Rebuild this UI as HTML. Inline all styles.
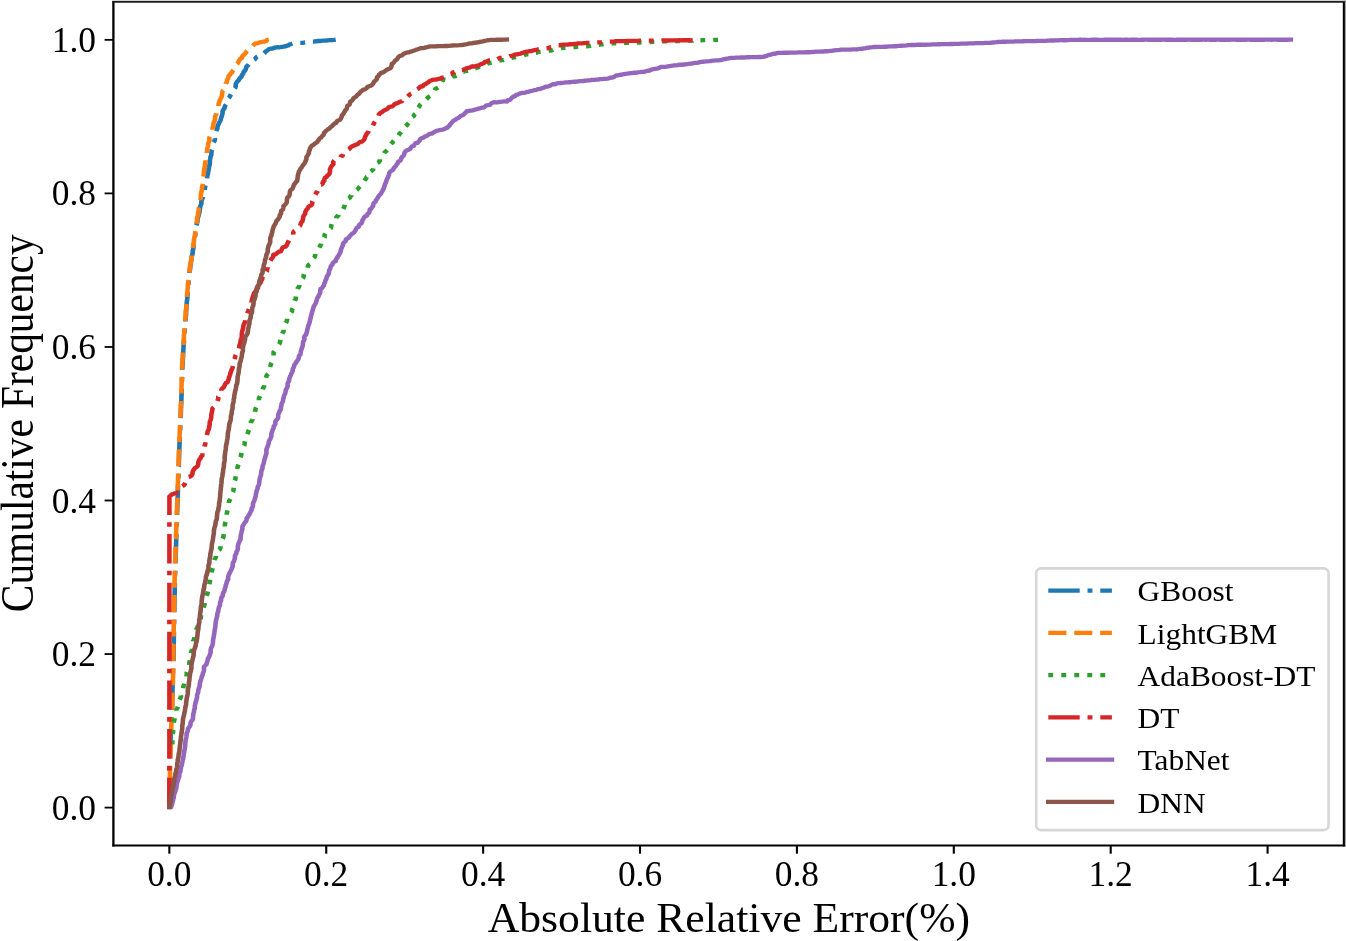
<!DOCTYPE html>
<html><head><meta charset="utf-8"><title>Cumulative Frequency of Absolute Relative Error</title>
<style>
html,body{margin:0;padding:0;background:#fff;}
body{width:1346px;height:941px;overflow:hidden;}
svg{display:block;}
text{font-family:"Liberation Serif","Times New Roman",serif;fill:#000;}
.tick{font-size:35.4px;}
.lab{font-size:44px;}
.leg{font-size:31.4px;}
</style></head><body>
<svg width="1346" height="941" viewBox="0 0 1346 941">
<rect x="0" y="0" width="1346" height="941" fill="#fff"/>
<defs><clipPath id="ax"><rect x="113.4" y="2.0" width="1230.4499999999998" height="843.5"/></clipPath></defs>

<g clip-path="url(#ax)"><g transform="scale(1,0.94)" fill="none" stroke-linejoin="round">
<path d="M169.4,858.7 L169.4,857.0 L169.4,855.3 L169.4,853.6 L169.4,851.9 L169.4,850.2 L169.4,848.5 L169.4,846.8 L169.4,845.1 L169.4,843.4 L169.4,841.7 L169.4,840.0 L169.5,838.3 L169.5,836.6 L169.5,834.9 L169.5,833.2 L169.5,831.5 L169.5,829.8 L169.5,828.1 L169.5,827.5 M169.5,819.7 L169.5,819.6 L169.6,817.8 L169.6,816.1 L169.7,814.8 M169.9,806.9 L169.9,805.9 L170.0,804.2 L170.0,802.5 L170.1,800.8 L170.1,799.1 L170.2,797.4 L170.3,795.7 L170.3,794.0 L170.4,792.3 L170.4,790.6 L170.5,788.9 L170.5,787.2 L170.6,785.5 L170.6,783.8 L170.7,782.1 L170.7,780.4 L170.8,778.7 L170.9,777.0 L171.0,775.5 M171.3,767.7 L171.3,766.8 L171.3,765.1 L171.4,763.4 L171.4,762.8 M171.9,755.1 L171.9,754.9 L172.0,753.2 L172.0,751.5 L172.1,749.8 L172.1,748.1 L172.2,746.4 L172.2,744.7 L172.3,743.0 L172.3,741.3 L172.4,739.6 L172.4,737.9 L172.5,736.2 L172.5,734.5 L172.5,732.8 L172.6,731.1 L172.6,729.4 L172.7,727.6 L172.7,725.9 L172.8,724.2 L172.8,724.0 M173.0,716.2 L173.0,715.7 L173.0,714.0 L173.1,712.3 L173.1,711.4 M173.5,703.5 L173.5,702.1 L173.5,700.4 L173.6,698.7 L173.6,697.0 L173.6,695.3 L173.6,693.6 L173.7,691.9 L173.7,690.2 L173.7,688.5 L173.7,686.8 L173.7,685.1 L173.8,683.4 L173.8,681.7 L173.8,680.0 L173.8,678.3 L173.9,676.6 L173.9,674.9 L173.9,673.2 L173.9,672.0 M174.1,664.1 L174.1,663.0 L174.1,661.2 L174.2,659.5 L174.2,659.2 M174.3,651.4 L174.3,651.0 L174.3,649.3 L174.4,647.6 L174.4,645.9 L174.4,644.2 L174.5,642.5 L174.5,640.8 L174.5,639.1 L174.5,637.4 L174.6,635.7 L174.6,634.0 L174.6,632.3 L174.7,630.6 L174.7,628.9 L174.7,627.2 L174.8,625.5 L174.8,623.8 L174.8,622.1 L174.8,620.4 L174.9,619.9 M175.1,612.0 L175.1,611.9 L175.1,610.2 L175.2,608.5 L175.2,607.1 M175.5,599.3 L175.5,598.3 L175.6,596.6 L175.6,594.8 L175.7,593.1 L175.7,591.4 L175.8,589.7 L175.8,588.0 L175.9,586.3 L175.9,584.6 L176.0,582.9 L176.0,581.2 L176.1,579.5 L176.1,577.8 L176.2,576.1 L176.2,574.4 L176.3,572.7 L176.3,571.0 L176.4,569.3 L176.4,568.2 M176.6,560.4 L176.6,559.1 L176.7,557.4 L176.8,555.7 L176.8,555.5 M177.1,547.8 L177.1,547.2 L177.1,545.5 L177.2,543.8 L177.3,542.1 L177.3,540.4 L177.4,538.7 L177.4,537.0 L177.5,535.3 L177.6,533.6 L177.6,531.9 L177.7,530.2 L177.7,528.5 L177.8,526.8 L177.8,525.1 L177.9,523.4 L177.9,521.7 L178.0,520.0 L178.0,518.3 L178.1,516.6 M178.3,508.9 L178.4,508.0 L178.4,506.3 L178.5,504.6 L178.5,504.0 M178.7,496.3 L178.8,496.1 L178.8,494.4 L178.9,492.7 L178.9,491.0 L179.0,489.3 L179.0,487.6 L179.1,485.9 L179.1,484.2 L179.2,482.5 L179.2,480.8 L179.3,479.1 L179.3,477.4 L179.4,475.7 L179.5,474.0 L179.5,472.3 L179.6,470.6 L179.7,468.9 L179.7,467.2 L179.8,465.5 L179.8,465.1 M180.1,457.4 L180.2,457.0 L180.2,455.3 L180.3,453.6 L180.3,452.5 M180.6,444.8 L180.7,443.4 L180.8,441.7 L180.8,440.0 L180.9,438.3 L180.9,436.6 L181.0,434.9 L181.1,433.2 L181.1,431.5 L181.2,429.8 L181.3,428.1 L181.3,426.4 L181.4,424.6 L181.4,422.9 L181.5,421.2 L181.6,419.5 L181.6,417.8 L181.7,416.1 L181.7,414.4 L181.7,413.6 M182.0,405.9 L182.0,404.2 L182.1,402.5 L182.1,401.0 M182.3,393.3 L182.3,392.3 L182.4,390.6 L182.5,388.9 L182.6,387.2 L182.6,385.5 L182.6,383.8 L182.8,382.1 L183.0,380.4 L183.1,378.7 L183.1,377.0 L183.2,375.3 L183.3,373.6 L183.4,371.9 L183.5,370.2 L183.5,368.5 L183.6,366.8 L183.8,365.1 L184.0,363.4 L184.0,362.2 M184.5,354.4 L184.6,353.2 L184.7,351.5 L184.8,349.8 L184.8,349.6 M185.4,341.9 L185.4,341.3 L185.6,339.6 L185.7,337.9 L185.9,336.2 L186.1,334.5 L186.1,332.8 L186.1,331.1 L186.3,329.4 L186.4,327.7 L186.5,326.0 L186.6,324.3 L186.8,322.6 L186.8,320.9 L187.1,319.3 L187.3,317.6 L187.4,315.9 L187.5,314.2 L187.6,312.5 L187.7,310.8 M188.4,303.1 L188.4,302.3 L188.5,300.6 L188.8,298.9 L188.9,298.3 M189.5,290.5 L189.5,290.4 L189.6,288.7 L189.9,287.0 L190.2,285.4 L190.3,283.7 L190.5,282.0 L190.8,280.3 L191.0,278.6 L191.4,276.9 L191.6,275.3 L191.7,273.5 L192.1,271.9 L192.5,270.2 L192.7,268.5 L192.7,266.8 L193.2,265.2 L193.5,263.5 L193.6,261.8 L193.6,260.1 L193.7,259.8 M194.8,252.1 L194.9,251.7 L195.3,250.0 L195.4,248.3 L195.6,247.4 M196.5,239.7 L196.9,238.2 L197.2,236.5 L197.5,234.9 L197.5,233.1 L197.9,231.5 L198.5,229.9 L198.6,228.2 L199.3,226.6 L199.6,224.9 L199.7,223.2 L200.1,221.5 L200.2,219.8 L200.8,218.2 L201.4,216.6 L201.3,214.8 L201.6,213.2 L202.2,211.6 L203.0,210.0 L203.1,209.5 M204.9,202.0 L204.9,201.8 L204.8,200.0 L205.2,198.4 L205.5,197.2 M207.1,189.7 L207.2,188.4 L207.3,186.6 L207.9,185.0 L208.1,183.3 L208.4,181.7 L208.7,180.0 L209.0,178.3 L209.2,176.6 L209.7,175.0 L209.9,173.3 L209.8,171.5 L210.1,169.9 L210.3,168.2 L210.6,166.5 L211.3,164.9 L211.4,163.2 L211.5,161.5 L211.7,159.8 L212.0,159.1 M213.6,151.5 L213.6,151.5 L214.5,150.0 L214.9,148.3 L214.7,147.0 M216.3,139.5 L216.6,138.3 L217.4,136.7 L217.4,135.0 L218.0,133.4 L218.7,131.8 L219.3,130.2 L220.2,128.8 L220.8,127.2 L221.0,125.4 L221.8,123.9 L222.1,122.2 L222.6,120.6 L222.5,118.8 L223.0,117.2 L224.2,115.8 L224.6,114.2 L225.1,112.5 L226.1,111.2 M228.6,104.3 L229.4,103.4 L230.2,102.0 L230.8,100.4 L230.9,100.2 M234.7,94.0 L235.3,93.3 L235.8,91.7 L235.7,89.6 L236.4,88.1 L237.3,86.7 L238.6,85.6 L239.3,84.0 L240.4,82.7 L241.5,81.4 L242.0,79.8 L243.2,78.5 L243.5,76.7 L244.6,75.5 L245.6,74.1 L246.1,72.5 L246.5,70.7 L247.9,69.6 L248.7,68.5 M254.1,63.4 L255.0,62.9 L255.9,61.3 L257.2,60.2 L257.4,60.1 M264.3,56.9 L264.5,56.7 L265.4,54.9 L266.8,54.1 L268.1,53.0 L269.4,52.0 L271.1,51.8 L272.8,51.6 L274.1,50.8 L275.7,50.5 L277.3,50.3 L278.9,50.3 L280.5,50.1 L282.1,49.8 L283.7,49.5 L285.2,49.4 L286.7,48.7 L288.3,48.4 L289.5,47.1 L291.2,46.9 L292.4,46.4 M300.3,45.7 L300.6,45.7 L302.2,45.6 L303.8,45.4 L305.1,45.2 M312.9,44.2 L313.4,44.2 L315.0,44.0 L316.6,43.9 L318.1,43.6 L319.7,43.6 L321.3,43.4 L322.9,43.2 L324.5,43.2 L326.1,43.1 L327.7,42.9 L329.3,42.7 L330.9,42.7 L332.5,42.7 L334.1,42.5 L335.7,42.2" stroke="#1f77b4" stroke-width="4.6" stroke-linecap="butt"/>
<path d="M169.4,858.7 L169.4,857.0 L169.5,855.3 L169.5,853.6 L169.5,851.9 L169.5,850.2 L169.6,848.5 L169.6,846.8 L169.6,845.1 L169.6,843.4 L169.7,841.7 L169.7,840.6 M169.8,832.8 L169.8,831.5 L169.8,829.8 L169.9,828.1 L169.9,826.4 L169.9,824.7 L170.0,823.0 L170.0,821.3 L170.0,819.6 L170.1,817.9 L170.1,816.2 L170.1,814.7 M170.3,806.9 L170.4,806.0 L170.4,804.3 L170.5,802.6 L170.5,800.9 L170.5,799.1 L170.6,797.4 L170.6,795.7 L170.7,794.0 L170.7,792.3 L170.8,790.6 L170.8,788.9 L170.8,788.8 M171.0,781.0 L171.0,780.4 L171.1,778.7 L171.1,777.0 L171.2,775.3 L171.3,773.6 L171.3,771.9 L171.4,770.2 L171.5,768.5 L171.6,766.8 L171.7,765.1 L171.7,763.4 L171.7,762.9 M172.0,755.1 L172.0,754.9 L172.1,753.2 L172.2,751.5 L172.3,749.8 L172.3,748.1 L172.4,746.4 L172.4,744.7 L172.5,743.0 L172.5,741.3 L172.5,739.6 L172.6,737.9 L172.6,736.9 M172.8,729.0 L172.8,727.7 L172.9,726.0 L172.9,724.3 L172.9,722.6 L173.0,720.9 L173.0,719.2 L173.1,717.5 L173.1,715.8 L173.1,714.1 L173.2,712.4 L173.2,710.9 M173.2,703.1 L173.2,702.2 L173.2,700.5 L173.3,698.8 L173.3,697.0 L173.3,695.3 L173.3,693.6 L173.4,691.9 L173.4,690.2 L173.4,688.5 L173.4,686.8 L173.4,685.1 L173.5,685.0 M173.6,677.2 L173.6,676.6 L173.6,674.9 L173.6,673.2 L173.6,671.5 L173.7,669.8 L173.7,668.1 L173.7,666.4 L173.8,664.7 L173.8,663.0 L173.8,661.3 L173.9,659.6 L173.9,659.1 M174.0,651.2 L174.0,651.1 L174.0,649.4 L174.1,647.7 L174.1,646.0 L174.1,644.3 L174.2,642.6 L174.2,640.9 L174.2,639.2 L174.2,637.5 L174.3,635.8 L174.3,634.1 L174.3,633.1 M174.5,625.3 L174.5,623.9 L174.5,622.1 L174.5,620.4 L174.6,618.7 L174.6,617.0 L174.7,615.3 L174.7,613.6 L174.8,611.9 L174.8,610.2 L174.9,608.5 L174.9,607.2 M175.2,599.4 L175.2,598.3 L175.3,596.6 L175.3,594.9 L175.4,593.2 L175.4,591.5 L175.5,589.8 L175.5,588.1 L175.6,586.4 L175.6,584.7 L175.7,583.0 L175.7,581.3 M175.9,573.5 L176.0,572.8 L176.0,571.1 L176.0,569.4 L176.1,567.7 L176.1,566.0 L176.2,564.3 L176.2,562.6 L176.3,560.9 L176.3,559.2 L176.4,557.5 L176.5,555.8 L176.5,555.4 M176.8,547.6 L176.8,547.3 L176.8,545.6 L176.9,543.9 L177.0,542.2 L177.0,540.5 L177.1,538.8 L177.1,537.1 L177.2,535.4 L177.3,533.7 L177.3,532.0 L177.4,530.3 L177.4,529.6 M177.6,521.8 L177.6,521.8 L177.7,520.1 L177.7,518.4 L177.8,516.7 L177.9,515.0 L177.9,513.2 L178.0,511.5 L178.0,509.8 L178.1,508.1 L178.1,506.4 L178.2,504.7 L178.2,503.8 M178.5,496.0 L178.5,494.5 L178.6,492.8 L178.6,491.1 L178.7,489.4 L178.7,487.7 L178.8,486.0 L178.8,484.3 L178.9,482.6 L178.9,480.9 L179.0,479.2 L179.0,478.0 M179.3,470.3 L179.4,469.0 L179.4,467.3 L179.5,465.6 L179.6,463.9 L179.6,462.2 L179.7,460.5 L179.8,458.8 L179.8,457.1 L179.9,455.4 L180.0,453.7 L180.0,452.3 M180.4,444.5 L180.4,443.5 L180.5,441.8 L180.5,440.1 L180.6,438.4 L180.6,436.7 L180.7,435.0 L180.8,433.3 L180.8,431.6 L180.9,429.9 L181.0,428.2 L181.0,426.5 L181.0,426.5 M181.3,418.7 L181.3,418.0 L181.4,416.3 L181.4,414.6 L181.5,412.9 L181.5,411.2 L181.6,409.5 L181.6,407.8 L181.7,406.1 L181.7,404.4 L181.8,402.7 L181.8,401.0 L181.8,400.7 M182.0,392.9 L182.0,392.5 L182.1,390.8 L182.2,389.1 L182.2,387.3 L182.2,385.6 L182.4,383.9 L182.5,382.3 L182.7,380.6 L182.8,378.9 L182.8,377.2 L182.9,375.5 L182.9,374.9 M183.4,367.1 L183.4,367.0 L183.5,365.3 L183.6,363.6 L183.6,361.9 L183.9,360.2 L183.9,358.5 L183.9,356.8 L184.2,355.1 L184.4,353.4 L184.5,351.7 L184.5,350.0 L184.5,349.2 M185.2,341.4 L185.3,339.8 L185.5,338.1 L185.5,336.4 L185.7,334.7 L185.7,333.0 L185.8,331.3 L186.0,329.6 L186.2,327.9 L186.3,326.2 L186.4,324.5 L186.5,323.5 M186.9,315.8 L187.0,314.3 L187.2,312.6 L187.4,310.9 L187.4,309.2 L187.6,307.5 L187.8,305.8 L187.8,304.1 L187.9,302.4 L188.2,300.8 L188.5,299.1 L188.6,297.9 M189.3,290.1 L189.5,288.9 L189.6,287.2 L189.8,285.5 L190.0,283.9 L190.2,282.2 L190.7,280.5 L190.8,278.8 L191.0,277.1 L191.4,275.5 L191.7,273.8 L191.7,272.1 L191.7,271.8 M192.8,263.9 L192.8,263.6 L193.4,262.0 L193.6,260.3 L193.6,258.6 L193.8,256.9 L193.9,255.2 L194.2,253.5 L194.6,251.9 L195.0,250.2 L195.1,248.5 L195.3,246.8 L195.5,245.8 M196.5,238.0 L196.6,236.7 L197.0,235.0 L196.9,233.3 L197.1,231.6 L197.7,230.0 L198.0,228.3 L198.2,226.6 L198.5,224.9 L198.7,223.3 L198.8,221.6 L199.1,220.6 M200.4,213.1 L200.6,211.5 L200.7,209.8 L200.9,208.1 L201.0,206.4 L201.2,204.7 L201.7,203.1 L202.0,201.4 L202.0,199.7 L202.3,198.0 L202.6,196.3 L202.7,195.5 M203.4,187.9 L203.4,187.9 L203.6,186.2 L203.9,184.5 L203.9,182.8 L204.2,181.1 L204.5,179.4 L204.7,177.7 L205.0,176.1 L205.0,174.4 L205.4,172.7 L205.7,171.0 L205.7,170.4 M206.8,162.7 L206.8,162.6 L207.2,160.9 L207.2,159.2 L207.4,157.5 L207.9,155.9 L208.1,154.2 L208.3,152.5 L208.9,150.9 L209.5,149.3 L209.3,147.5 L209.6,145.8 L209.8,145.3 M212.4,138.0 L212.4,137.8 L212.5,136.1 L213.2,134.5 L213.4,132.8 L213.5,131.1 L214.3,129.5 L214.9,127.9 L215.1,126.2 L215.1,124.5 L215.6,122.8 L216.3,121.3 L216.4,120.4 M218.4,113.0 L218.5,111.3 L218.9,109.7 L219.4,108.1 L219.9,106.5 L220.7,104.9 L221.4,103.4 L222.0,101.8 L222.1,100.0 L222.3,98.3 L222.8,96.7 L223.4,96.1 M225.8,89.1 L225.8,88.8 L226.9,87.4 L227.0,85.6 L227.8,84.1 L228.3,82.5 L228.7,80.7 L230.0,79.6 L230.7,78.1 L232.0,77.0 L232.7,75.4 L233.4,74.5 M236.9,67.9 L238.0,66.9 L238.7,65.3 L239.6,63.8 L240.5,62.4 L242.0,61.5 L242.4,59.7 L243.6,58.5 L244.8,57.4 L245.9,56.2 L246.6,54.5 L247.1,54.0 M252.8,48.9 L253.8,47.7 L255.0,46.4 L256.5,46.1 L258.1,45.8 L259.6,45.2 L261.2,44.9 L262.7,44.3 L264.4,44.2 L265.9,43.8 L267.2,42.5 L268.8,42.2" stroke="#ff7f0e" stroke-width="4.6" stroke-linecap="butt"/>
<path d="M172.2,791.9 L172.3,790.2 L172.4,788.5 L172.4,787.5 M172.7,781.0 L172.8,780.0 L173.1,778.3 L173.1,776.7 M173.8,768.8 L173.9,768.2 L174.1,766.5 L174.6,764.9 L174.7,764.0 M176.4,756.2 L176.4,754.8 L177.3,753.3 L177.9,751.8 M179.7,744.4 L180.0,743.5 L180.7,742.0 L181.0,740.3 L180.9,739.8 M183.2,732.1 L183.4,730.4 L184.0,728.8 L184.3,727.3 M186.4,719.7 L186.5,718.9 L186.8,717.3 L186.7,715.5 L186.9,715.0 M189.4,707.4 L189.3,705.6 L189.6,704.0 L190.0,702.6 M191.1,694.8 L191.1,693.9 L191.7,692.3 L192.1,690.6 L192.1,690.2 M193.1,682.3 L193.1,682.2 L193.9,680.6 L194.3,679.0 L194.4,677.8 M196.3,670.2 L196.6,669.0 L197.4,667.6 L197.9,666.0 L198.0,665.8 M200.4,658.6 L200.6,658.0 L200.9,656.2 L201.1,654.5 L201.4,654.0 M203.4,646.3 L204.0,644.8 L204.5,643.2 L204.6,641.6 M206.4,633.8 L206.6,633.2 L207.4,631.7 L207.7,630.0 L207.9,629.2 M209.4,621.5 L209.6,620.0 L209.9,618.3 L210.1,616.8 M211.7,609.1 L211.8,608.3 L212.1,606.6 L212.6,605.0 L212.8,604.3 M214.3,596.0 L214.6,595.0 L215.4,593.7 L216.0,592.1 L216.0,591.6 M218.9,585.2 L219.7,584.6 L220.4,582.9 L220.7,581.2 L220.7,581.0 M222.8,573.2 L222.9,573.0 L223.3,571.4 L223.6,569.8 L223.7,568.3 M224.8,560.1 L224.8,559.6 L225.0,557.9 L225.2,556.2 L225.5,555.2 M226.8,547.5 L226.8,546.2 L227.2,544.5 L227.5,542.9 M228.9,535.2 L228.9,534.5 L229.3,532.8 L230.1,531.3 L230.4,530.7 M232.9,523.5 L233.0,523.3 L233.5,521.7 L233.6,519.9 L233.7,518.9 M234.9,511.2 L235.4,509.9 L235.5,508.2 L235.7,506.6 M237.2,498.9 L237.3,498.1 L237.7,496.5 L238.3,494.9 L238.6,494.3 M240.3,486.5 L241.0,485.1 L241.2,483.4 L241.5,481.8 M244.1,474.3 L244.4,473.7 L244.6,472.0 L244.7,470.3 L244.9,469.5 M247.4,461.9 L247.9,460.6 L248.3,459.0 L249.0,457.4 M250.7,450.1 L250.9,449.1 L251.8,447.6 L252.7,446.2 L252.7,445.9 M254.9,438.1 L254.9,438.0 L255.4,436.4 L255.6,434.7 L256.2,433.4 M258.9,425.9 L258.9,425.1 L259.0,423.3 L260.0,421.8 L260.2,421.4 M262.8,414.3 L262.9,413.9 L263.3,412.3 L264.2,410.8 L264.3,409.8 M265.9,401.9 L266.2,400.7 L266.9,399.2 L268.0,397.8 L268.1,397.7 M270.0,390.4 L270.2,389.6 L270.8,388.0 L271.3,386.4 L271.6,385.9 M273.6,378.3 L273.6,378.3 L273.6,376.5 L273.6,374.6 L274.3,373.5 M279.1,366.2 L279.2,366.1 L279.9,364.5 L280.2,362.8 L280.4,361.6 M282.3,354.9 L282.4,354.6 L283.4,353.1 L283.6,351.4 L283.6,350.7 M285.8,343.7 L286.0,343.3 L286.8,341.8 L287.1,340.1 L287.1,339.2 M291.2,332.4 L292.0,331.3 L292.0,329.4 L292.8,327.9 M294.5,319.9 L294.6,319.6 L295.7,318.2 L295.8,316.4 L295.9,315.4 M297.6,307.6 L297.9,306.5 L299.0,305.1 L299.4,303.3 L299.4,303.2 M302.8,296.2 L303.1,295.8 L303.7,294.2 L303.8,292.4 L304.0,291.7 M307.7,284.9 L307.9,283.1 L308.7,281.6 L309.8,280.9 M313.6,274.3 L314.5,273.5 L315.2,271.8 L315.2,270.1 M319.3,263.4 L319.6,262.8 L320.3,261.3 L321.1,259.8 L321.2,259.2 M324.4,252.7 L324.7,252.2 L324.5,250.1 L325.3,248.6 L325.4,248.4 M330.4,242.8 L331.0,242.4 L331.2,240.5 L331.6,238.8 L331.7,238.5 M336.2,232.2 L336.2,231.8 L337.0,230.3 L338.4,229.3 L338.6,228.4 M343.2,222.3 L343.9,220.9 L344.5,219.2 L344.7,217.8 M348.5,211.3 L349.6,210.6 L350.4,209.1 L351.4,207.8 L351.4,207.7 M356.8,202.1 L357.1,201.9 L358.2,200.5 L359.2,199.2 L359.9,198.4 M364.5,192.2 L365.1,191.1 L366.1,189.9 L366.7,188.3 L366.9,188.2 M370.7,182.4 L371.8,181.6 L373.1,180.5 L373.4,179.1 M377.4,173.1 L378.9,172.4 L379.8,171.0 L379.8,169.5 M384.1,163.1 L384.6,162.1 L385.9,161.0 L387.0,159.8 L387.2,159.6 M391.0,153.1 L391.4,152.6 L392.6,151.4 L393.4,150.0 L393.8,149.5 M398.8,144.1 L399.0,143.8 L399.5,142.1 L400.8,141.0 L401.3,140.3 M405.6,134.4 L405.7,134.3 L406.9,133.1 L407.9,131.8 L408.7,130.9 M412.4,124.4 L413.7,123.6 L414.3,122.0 L415.4,121.1 M418.3,114.5 L419.3,113.3 L419.9,111.7 L421.0,110.7 M426.4,105.6 L427.1,104.9 L428.0,103.5 L429.5,102.6 L430.0,102.3 M434.9,96.2 L435.4,94.6 L437.0,93.8 L438.1,93.1 M441.9,86.9 L442.6,85.4 L444.4,84.7 L445.4,84.9 M452.0,81.9 L453.4,81.1 L455.2,81.2 L456.6,80.7 M463.4,76.2 L463.6,76.2 L465.0,75.4 L466.8,75.5 L468.1,75.3 M475.4,72.4 L475.9,72.4 L477.5,72.0 L478.9,71.1 L479.9,70.8 M487.0,67.9 L487.9,67.4 L489.5,67.2 L491.0,66.8 L491.6,66.7 M499.2,64.4 L500.3,64.2 L501.9,63.9 L503.6,64.0 L503.9,63.9 M511.4,61.5 L512.8,61.2 L514.4,61.0 L516.0,60.7 L516.1,60.7 M523.8,58.9 L525.3,58.2 L526.8,57.7 L528.4,57.7 M536.0,56.1 L536.3,56.1 L537.8,55.4 L539.4,55.2 L540.6,55.1 M548.5,54.0 L548.9,53.9 L550.6,53.9 L552.1,53.4 L553.1,52.9 M560.8,51.4 L561.5,51.2 L563.1,51.0 L564.6,50.8 L565.5,50.8 M573.4,50.1 L574.2,50.0 L575.8,50.0 L577.4,49.8 L578.2,49.8 M586.1,49.2 L587.0,49.2 L588.6,49.0 L590.2,48.8 L590.9,48.6 M598.8,47.7 L599.7,47.6 L601.3,47.3 L602.9,47.1 L603.5,47.0 M611.4,46.4 L612.5,46.2 L614.0,46.1 L615.7,46.1 L616.2,46.1 M624.1,45.7 L625.2,45.7 L626.8,45.7 L628.4,45.6 L628.9,45.6 M636.8,45.4 L638.0,45.4 L639.6,45.2 L641.2,45.1 L641.6,45.1 M649.6,44.8 L650.8,44.7 L652.4,44.6 L654.0,44.5 L654.3,44.5 M662.3,44.2 L663.6,44.1 L665.2,44.1 L666.8,44.0 L667.1,44.0 M675.0,43.7 L676.4,43.6 L678.0,43.6 L679.6,43.6 L679.8,43.6 M687.7,43.3 L689.2,43.2 L690.8,43.2 L692.4,43.2 L692.5,43.1 M700.4,42.9 L702.0,42.8 L703.6,42.7 L705.2,42.7 L705.2,42.7 M713.2,42.5 L713.2,42.5 L714.8,42.4 L716.4,42.4 L718.0,42.3" stroke="#2ca02c" stroke-width="4.6" stroke-linecap="butt"/>
<path d="M169.4,858.7 L169.4,857.0 L169.4,855.3 L169.4,853.6 L169.4,851.9 L169.4,850.2 L169.4,848.5 L169.4,846.8 L169.4,845.1 L169.4,843.4 L169.4,841.7 L169.4,840.0 L169.4,838.3 L169.4,836.6 L169.4,834.9 L169.4,833.2 L169.4,831.5 L169.4,829.8 L169.4,828.1 L169.4,827.5 M169.4,819.7 L169.4,819.6 L169.4,817.8 L169.4,816.1 L169.4,814.8 M169.4,806.9 L169.4,805.9 L169.4,804.2 L169.4,802.5 L169.4,800.8 L169.4,799.1 L169.4,797.4 L169.4,795.7 L169.4,794.0 L169.4,792.3 L169.4,790.6 L169.4,788.9 L169.4,787.2 L169.4,785.5 L169.4,783.8 L169.4,782.1 L169.4,780.4 L169.4,778.7 L169.4,777.0 L169.4,775.5 M169.4,767.7 L169.4,766.8 L169.4,765.1 L169.4,763.4 L169.4,762.8 M169.4,755.0 L169.4,754.8 L169.4,753.1 L169.4,751.4 L169.4,749.7 L169.4,748.0 L169.4,746.3 L169.4,744.6 L169.4,742.9 L169.4,741.2 L169.4,739.5 L169.4,737.8 L169.4,736.1 L169.4,734.4 L169.4,732.7 L169.4,731.0 L169.4,729.3 L169.4,727.6 L169.4,725.9 L169.4,724.2 L169.4,724.0 M169.4,716.3 L169.4,715.7 L169.4,714.0 L169.4,712.3 L169.4,711.4 M169.4,703.5 L169.4,702.0 L169.4,700.3 L169.4,698.6 L169.4,696.9 L169.4,695.2 L169.4,693.5 L169.4,691.8 L169.4,690.1 L169.4,688.4 L169.4,686.7 L169.4,685.0 L169.4,683.3 L169.4,681.6 L169.4,679.9 L169.4,678.2 L169.4,676.5 L169.4,674.8 L169.4,673.1 L169.4,672.0 M169.4,664.2 L169.4,662.9 L169.4,661.2 L169.4,659.5 L169.4,659.2 M169.4,651.4 L169.4,650.9 L169.4,649.2 L169.4,647.5 L169.4,645.8 L169.4,644.1 L169.4,642.4 L169.4,640.7 L169.4,639.0 L169.4,637.3 L169.4,635.6 L169.4,633.9 L169.4,632.2 L169.4,630.5 L169.4,628.8 L169.4,627.1 L169.4,625.4 L169.4,623.7 L169.4,622.0 L169.4,620.3 L169.4,619.9 M169.4,612.0 L169.4,611.8 L169.4,610.1 L169.4,608.4 L169.4,607.1 M169.4,599.4 L169.4,598.2 L169.4,596.5 L169.4,594.7 L169.4,593.0 L169.4,591.3 L169.4,589.6 L169.4,587.9 L169.4,586.2 L169.4,584.5 L169.4,582.8 L169.4,581.1 L169.4,579.4 L169.4,577.7 L169.4,576.0 L169.4,574.3 L169.4,572.6 L169.4,570.9 L169.4,569.2 L169.4,568.2 M169.4,560.4 L169.4,559.0 L169.4,557.3 L169.4,555.6 M169.4,548.0 L169.4,547.1 L169.4,545.4 L169.4,543.7 L169.4,542.0 L169.4,540.2 L169.4,538.5 L169.4,536.8 L169.4,535.1 L169.4,533.4 L169.4,531.7 L169.4,530.0 L169.4,528.3 L170.6,527.2 L171.5,526.2 L173.0,525.6 L174.5,524.8 L176.1,524.5 L177.6,524.1 L178.5,523.5 M182.3,517.2 L183.6,516.4 L184.7,515.2 L185.4,513.7 M188.7,507.4 L190.3,506.9 L191.6,505.8 L192.4,504.2 L192.6,502.3 L193.1,500.7 L194.1,499.3 L194.9,497.9 L196.5,496.9 L197.7,495.7 L198.2,493.9 L198.3,492.1 L198.7,490.4 L199.4,488.9 L200.6,487.6 L201.0,485.9 L202.3,484.7 L202.4,482.8 L202.4,482.3 M204.4,475.1 L204.5,474.6 L205.1,473.0 L205.4,471.4 L205.5,470.5 M206.9,462.9 L207.2,461.3 L207.5,459.6 L208.1,458.1 L208.8,456.5 L209.2,454.8 L209.4,453.1 L209.7,451.5 L209.7,449.7 L210.0,448.0 L210.7,446.4 L211.1,444.8 L211.3,443.1 L211.3,441.4 L211.6,439.7 L212.0,438.1 L212.3,436.4 L212.5,434.5 L213.9,433.4 L213.9,433.4 M217.3,426.7 L217.6,425.9 L218.3,424.3 L218.2,422.4 L218.4,422.2 M221.3,415.7 L221.3,414.6 L222.4,413.2 L223.6,412.1 L224.4,410.6 L225.0,409.0 L225.9,407.5 L227.5,406.7 L228.1,405.0 L228.7,403.4 L228.9,401.7 L229.6,400.1 L230.2,398.5 L230.4,396.8 L231.0,395.2 L231.5,393.6 L232.2,392.1 L232.7,390.5 L233.0,389.3 M234.6,382.0 L235.0,380.5 L235.3,378.8 L235.8,377.5 M238.9,370.7 L239.2,369.5 L239.4,367.7 L240.0,366.1 L240.4,364.5 L240.6,362.8 L240.9,361.1 L241.5,359.5 L241.8,357.8 L241.8,356.1 L241.9,354.4 L242.1,352.7 L242.6,351.0 L243.1,349.4 L243.3,347.7 L243.5,346.0 L244.1,344.4 L244.9,342.9 L245.5,341.3 L245.6,340.7 M247.1,333.3 L247.2,333.0 L248.2,331.5 L248.6,329.9 L249.0,328.9 M251.3,321.9 L251.3,321.8 L251.7,320.2 L252.0,318.5 L252.5,316.9 L253.0,315.2 L253.6,313.6 L254.0,312.0 L255.0,310.6 L255.9,309.2 L256.8,307.7 L258.0,306.4 L258.0,304.6 L258.7,303.0 L259.8,301.7 L260.7,300.3 L261.2,298.6 L262.1,297.2 L262.4,295.5 L262.5,294.5 M266.6,288.8 L266.9,288.4 L266.8,286.4 L267.7,285.0 L267.7,284.3 M270.3,277.3 L270.5,277.0 L271.3,275.5 L272.5,274.3 L273.2,272.8 L273.4,270.9 L275.2,270.7 L276.6,269.9 L277.7,268.6 L279.1,267.7 L280.8,267.5 L281.6,265.7 L282.2,264.0 L283.4,262.9 L285.3,262.5 L286.6,261.4 L287.1,259.5 L288.0,258.1 L288.5,256.6 L288.9,255.7 M293.3,249.7 L293.2,247.6 L294.0,246.1 L294.8,245.5 M299.8,240.3 L300.0,240.2 L300.6,238.5 L301.0,236.9 L302.3,235.6 L302.7,234.0 L303.1,232.3 L303.2,230.5 L304.0,229.0 L305.1,227.6 L305.3,225.9 L305.9,224.3 L306.7,222.8 L307.9,221.6 L308.5,220.0 L309.9,219.0 L311.5,218.1 L312.3,216.4 L312.3,214.5 L312.5,214.0 M315.5,207.1 L315.7,206.8 L316.0,205.1 L317.3,204.0 L317.7,203.1 M321.1,196.5 L321.2,196.5 L322.6,195.5 L322.9,193.6 L324.2,192.5 L324.4,190.6 L325.0,189.0 L326.6,188.1 L327.5,186.7 L328.9,185.6 L329.7,184.0 L330.0,182.3 L329.9,180.4 L330.5,178.8 L331.2,177.3 L332.2,175.9 L333.4,174.6 L333.1,172.6 L334.2,170.9 L334.3,170.8 M340.5,167.3 L340.9,166.2 L342.6,165.6 L343.1,163.9 M348.4,159.0 L349.4,158.4 L350.3,157.1 L351.6,156.0 L353.0,155.2 L354.6,154.7 L356.0,153.9 L357.6,153.4 L358.8,152.2 L360.0,151.0 L361.7,150.7 L363.2,149.6 L364.3,148.3 L364.8,146.6 L365.3,145.0 L366.2,143.5 L366.8,141.9 L368.1,140.8 L368.6,139.2 M373.0,133.5 L373.4,132.3 L374.1,130.7 L375.0,129.4 M378.6,123.1 L378.9,121.9 L379.9,120.5 L381.0,119.8 L382.4,119.0 L383.6,117.7 L385.1,117.1 L386.5,116.4 L387.8,115.4 L388.9,114.0 L390.5,113.5 L392.1,113.1 L393.5,112.2 L394.6,110.9 L396.1,110.1 L397.7,109.8 L399.0,108.7 L400.5,108.1 L402.1,107.6 L402.3,107.1 M407.8,102.7 L408.3,102.2 L409.3,100.9 L410.6,99.8 L411.2,99.5 M417.2,94.8 L418.6,94.1 L419.7,92.8 L421.1,92.0 L422.9,91.8 L423.8,90.2 L425.4,89.6 L426.7,88.6 L428.1,87.7 L429.2,86.6 L430.6,85.6 L432.1,85.2 L433.7,84.8 L435.3,84.8 L436.9,84.4 L438.4,84.0 L440.0,83.7 L441.5,82.9 L442.9,82.5 L443.9,82.2 M450.5,78.6 L451.7,78.3 L452.9,77.0 L454.5,76.7 L454.6,76.6 M461.9,74.6 L462.3,74.6 L463.7,73.9 L465.2,73.3 L466.7,72.6 L468.2,72.1 L469.8,71.9 L471.2,70.9 L472.8,70.5 L474.6,70.8 L476.1,70.2 L477.7,69.9 L479.2,69.3 L480.6,68.4 L482.1,67.8 L483.6,67.3 L484.8,65.9 L486.4,65.6 L487.9,64.7 L489.4,64.3 L490.0,64.3 M497.4,62.8 L498.8,62.0 L500.3,61.5 L501.8,61.3 M509.4,60.0 L509.8,59.8 L511.4,59.5 L513.0,59.2 L514.4,58.3 L515.9,57.8 L517.5,57.7 L519.1,57.4 L520.7,57.0 L522.2,56.4 L523.7,55.8 L525.3,55.4 L526.8,55.0 L528.4,54.7 L530.0,54.3 L531.6,54.3 L533.1,53.6 L534.7,53.4 L536.3,53.2 L537.8,52.5 L538.9,52.3 M546.5,51.4 L547.3,51.3 L548.9,50.8 L550.4,50.3 L551.2,50.2 M558.6,48.1 L559.8,48.1 L561.4,47.8 L563.0,47.6 L564.6,47.5 L566.2,47.5 L567.8,47.4 L569.3,47.1 L570.9,47.1 L572.5,46.9 L574.1,46.8 L575.7,46.7 L577.3,46.3 L578.9,46.2 L580.5,46.2 L582.1,46.1 L583.7,45.9 L585.3,45.8 L586.9,45.6 L588.5,45.6 L589.5,45.6 M597.2,45.1 L598.1,45.0 L599.7,45.0 L601.3,44.9 L602.0,44.8 M609.8,44.3 L610.9,44.3 L612.5,44.2 L614.1,44.1 L615.7,43.9 L617.3,43.8 L618.9,43.7 L620.5,43.8 L622.1,43.7 L623.7,43.7 L625.3,43.7 L626.9,43.6 L628.5,43.6 L630.1,43.5 L631.7,43.4 L633.3,43.4 L634.9,43.4 L636.5,43.4 L638.1,43.4 L639.7,43.3 L641.0,43.3 M648.8,43.2 L649.3,43.2 L650.9,43.2 L652.5,43.2 L653.6,43.1 M661.5,43.2 L662.1,43.1 L663.7,43.1 L665.3,43.0 L666.9,43.1 L668.5,43.1 L670.1,43.0 L671.7,42.9 L673.3,42.9 L674.9,43.0 L676.5,43.0 L678.1,42.9 L679.7,42.8 L681.3,42.9 L682.9,42.8 L684.5,42.8 L686.1,42.8 L687.7,42.8 L689.3,42.8 L690.9,42.8 L692.5,42.8" stroke="#d62728" stroke-width="4.6" stroke-linecap="butt"/>
<path d="M169.4,858.7 L171.1,858.7 L171.7,856.8 L172.1,855.1 L172.5,853.5 L172.9,851.9 L173.2,850.2 L173.8,848.6 L173.9,846.9 L174.1,845.1 L174.7,843.5 L175.3,842.0 L175.7,840.3 L176.1,838.7 L176.5,837.0 L176.6,835.3 L176.9,833.6 L177.3,831.9 L177.8,830.3 L178.3,828.7 L178.9,827.1 L179.3,825.5 L179.3,823.7 L179.7,822.1 L180.4,820.5 L180.6,818.8 L180.9,817.1 L181.2,815.4 L181.8,813.8 L182.1,812.2 L182.4,810.5 L182.6,808.8 L183.2,807.2 L183.3,805.5 L183.7,803.8 L183.7,802.1 L184.2,800.5 L184.3,798.7 L184.7,797.1 L184.9,795.4 L185.2,793.7 L185.2,792.0 L185.3,790.3 L185.5,788.6 L185.7,786.9 L186.1,785.3 L186.4,783.6 L186.6,781.9 L186.6,780.2 L187.3,778.6 L187.9,777.1 L188.0,775.3 L188.9,773.8 L190.0,772.5 L190.5,770.9 L190.5,769.0 L191.2,767.5 L192.3,766.1 L193.0,764.6 L193.0,762.7 L193.2,761.0 L193.3,759.3 L194.0,757.7 L194.0,756.0 L194.5,754.4 L194.9,752.7 L194.8,751.0 L195.2,749.3 L195.5,747.6 L196.0,746.0 L196.4,744.3 L196.9,742.7 L197.1,741.0 L197.1,739.3 L197.7,737.7 L198.2,736.0 L198.3,734.3 L198.7,732.7 L199.3,731.1 L199.7,729.4 L199.8,727.7 L200.1,726.0 L200.6,724.4 L201.0,722.8 L201.5,721.1 L201.9,719.5 L202.7,717.9 L202.9,716.2 L203.6,714.7 L204.0,713.0 L204.0,711.3 L204.0,709.4 L205.2,708.1 L206.4,706.8 L206.8,705.1 L207.3,703.5 L207.7,701.8 L208.1,700.2 L209.1,698.7 L209.7,697.2 L210.1,695.6 L210.7,693.9 L210.6,692.2 L210.8,690.5 L211.3,688.9 L212.2,687.3 L212.6,685.7 L212.9,684.0 L213.0,682.3 L213.1,680.6 L213.4,678.9 L213.8,677.2 L214.0,675.6 L214.2,673.9 L214.5,672.2 L214.6,670.5 L215.0,668.8 L215.2,667.1 L215.5,665.5 L215.5,663.7 L215.8,662.1 L215.9,660.4 L216.4,658.7 L216.7,657.0 L217.2,655.4 L217.2,653.7 L217.6,652.0 L218.2,650.4 L218.4,648.7 L218.7,647.0 L219.2,645.4 L219.9,643.9 L220.0,642.1 L220.3,640.5 L221.1,638.9 L221.1,637.2 L221.5,635.5 L222.6,634.1 L222.9,632.4 L223.1,630.7 L224.2,629.3 L224.6,627.6 L224.9,625.9 L225.6,624.4 L225.7,622.6 L226.4,621.1 L226.7,619.4 L227.3,617.8 L228.2,616.3 L228.0,614.5 L228.4,612.8 L228.9,611.2 L229.6,609.6 L230.4,608.1 L231.1,606.6 L231.7,605.0 L232.4,603.4 L232.8,601.8 L232.7,600.0 L233.1,598.3 L234.1,596.9 L234.5,595.2 L235.0,593.6 L234.9,591.8 L235.5,590.2 L236.3,588.7 L236.5,587.0 L237.4,585.5 L237.9,583.8 L237.8,582.0 L238.0,580.3 L238.4,578.7 L239.0,577.1 L239.6,575.5 L240.5,574.0 L240.6,572.3 L240.7,570.6 L240.9,568.9 L241.3,567.2 L241.6,565.5 L242.1,563.9 L242.4,562.2 L242.4,560.5 L243.0,558.9 L243.9,557.5 L244.7,556.1 L245.8,554.8 L246.5,553.3 L246.7,551.3 L247.7,550.1 L248.6,548.6 L249.4,547.2 L250.0,545.7 L250.8,544.2 L251.6,542.7 L251.6,540.9 L252.6,539.5 L253.0,537.8 L252.9,536.0 L253.5,534.4 L254.2,532.8 L254.7,531.2 L255.1,529.6 L255.7,528.0 L255.8,526.3 L256.2,524.6 L256.6,522.9 L256.9,521.3 L257.6,519.7 L257.7,518.0 L258.6,516.5 L259.0,514.8 L259.3,513.1 L259.4,511.4 L259.7,509.7 L260.0,508.1 L260.6,506.5 L261.1,504.8 L261.1,503.1 L261.4,501.4 L261.8,499.8 L262.5,498.2 L262.5,496.5 L262.9,494.8 L263.7,493.2 L263.9,491.5 L264.3,489.9 L264.6,488.2 L265.2,486.6 L265.6,485.0 L266.1,483.4 L266.5,481.7 L266.3,479.9 L266.5,478.2 L267.0,476.6 L267.6,475.0 L268.1,473.4 L268.7,471.7 L268.7,470.0 L269.4,468.4 L270.4,467.0 L270.9,465.4 L271.4,463.8 L271.3,461.9 L271.7,460.2 L272.3,458.7 L272.7,457.0 L273.6,455.5 L273.7,453.8 L274.7,452.3 L275.4,450.8 L275.3,449.0 L275.8,447.4 L277.2,446.1 L278.0,444.6 L278.2,442.9 L278.2,441.0 L278.9,439.5 L279.4,437.8 L280.3,436.4 L280.9,434.8 L281.0,433.1 L281.4,431.4 L281.6,429.7 L282.3,428.2 L283.0,426.6 L283.1,424.8 L283.7,423.2 L283.9,421.5 L284.5,420.0 L285.2,418.4 L285.6,416.7 L285.7,415.0 L286.5,413.5 L287.3,412.0 L287.7,410.3 L287.6,408.5 L288.1,406.9 L289.0,405.4 L289.1,403.6 L289.6,402.0 L290.1,400.4 L290.9,398.9 L291.4,397.3 L292.3,395.8 L292.7,394.2 L292.8,392.4 L293.7,390.9 L294.2,389.3 L294.6,387.6 L295.7,386.3 L296.5,384.8 L297.4,383.4 L298.4,382.0 L298.8,380.3 L299.0,378.5 L300.3,377.3 L300.6,375.6 L300.8,373.9 L301.3,372.3 L301.8,370.6 L302.4,369.0 L302.7,367.4 L303.0,365.7 L303.0,363.9 L303.8,362.4 L304.5,360.9 L304.1,358.9 L304.8,357.3 L306.1,356.1 L306.4,354.4 L307.0,352.8 L307.2,351.1 L307.6,349.5 L308.1,347.8 L308.3,346.2 L309.1,344.6 L309.6,343.0 L309.9,341.3 L310.3,339.7 L310.7,338.0 L311.0,336.3 L311.4,334.7 L311.8,333.1 L312.2,331.4 L312.8,329.8 L313.2,328.2 L313.6,326.5 L314.3,325.0 L315.2,323.5 L316.0,322.0 L316.5,320.4 L316.9,318.7 L317.3,317.1 L318.3,315.7 L318.9,314.1 L319.7,312.6 L320.3,311.0 L320.2,309.1 L320.6,307.4 L322.2,306.4 L323.0,304.9 L324.0,303.5 L324.2,301.7 L325.1,300.3 L325.3,298.5 L326.2,297.1 L326.6,295.4 L327.0,293.8 L328.2,292.4 L328.8,290.8 L329.0,289.1 L329.3,287.4 L330.1,286.0 L330.6,284.3 L331.1,282.7 L332.4,281.5 L332.9,279.8 L334.0,278.6 L335.7,277.7 L336.0,275.9 L337.1,274.6 L337.7,273.0 L338.7,271.7 L339.4,270.2 L340.3,268.7 L340.7,267.1 L341.0,265.4 L341.7,263.8 L342.2,262.2 L343.0,260.7 L343.1,259.0 L344.3,257.8 L345.5,256.6 L345.9,254.7 L347.3,253.8 L348.8,252.9 L349.6,251.3 L350.7,250.1 L351.8,248.8 L353.2,248.0 L354.5,246.9 L355.3,245.4 L356.0,243.7 L356.9,242.3 L358.5,241.6 L359.0,239.7 L360.0,238.4 L361.5,237.5 L362.1,235.9 L362.5,234.1 L363.5,232.8 L364.1,231.2 L365.4,230.0 L367.1,229.2 L367.6,227.5 L368.9,226.4 L369.6,224.8 L369.8,222.9 L371.3,221.9 L372.0,220.4 L373.1,219.2 L373.3,217.2 L374.0,215.7 L375.5,214.7 L375.9,212.9 L377.0,211.7 L377.9,210.3 L378.6,208.8 L379.6,207.4 L380.9,206.1 L381.6,204.6 L382.4,203.1 L383.1,201.6 L383.8,200.1 L384.3,198.4 L384.8,196.8 L385.3,195.2 L386.1,193.7 L386.4,192.0 L387.1,190.5 L387.9,188.9 L388.5,187.4 L389.0,185.7 L389.2,184.0 L390.2,182.6 L391.6,181.7 L393.0,180.7 L393.7,179.1 L394.7,177.7 L395.9,176.6 L396.6,175.0 L397.7,173.7 L398.2,172.0 L399.9,171.2 L400.9,169.9 L401.4,168.2 L402.2,166.7 L403.6,165.6 L404.2,164.0 L404.6,162.2 L405.6,160.9 L407.0,159.9 L408.5,159.3 L410.0,158.6 L411.0,157.1 L412.0,155.7 L413.7,155.3 L414.5,153.6 L415.6,152.4 L417.5,152.1 L418.5,150.8 L419.6,149.5 L420.4,147.8 L421.9,146.9 L423.5,146.4 L424.7,145.3 L426.3,144.8 L427.7,143.9 L429.0,142.9 L430.5,142.2 L432.2,142.0 L433.4,140.9 L434.9,140.2 L436.3,139.3 L437.9,138.9 L439.5,138.5 L441.0,138.1 L442.6,137.8 L444.2,137.4 L445.6,136.4 L447.2,135.9 L448.3,134.6 L449.6,133.5 L450.4,131.9 L451.5,130.8 L452.5,129.4 L453.7,128.3 L455.2,127.5 L456.4,126.4 L457.9,125.6 L459.3,124.7 L460.4,123.5 L462.0,122.9 L463.4,122.2 L464.5,120.8 L465.7,119.7 L466.8,118.3 L468.4,118.1 L470.0,117.7 L471.6,117.6 L473.2,117.2 L474.7,116.7 L476.3,116.3 L477.8,115.7 L479.4,115.4 L480.9,114.8 L482.4,114.4 L484.0,114.2 L485.3,113.0 L486.6,112.0 L488.3,111.8 L489.9,111.6 L491.0,110.0 L492.5,109.4 L493.9,108.6 L495.7,109.0 L497.3,108.8 L498.9,108.5 L500.5,108.4 L502.1,108.2 L503.7,107.9 L505.3,107.9 L507.1,108.0 L508.0,106.5 L509.8,106.3 L511.0,105.0 L512.1,103.7 L513.4,102.8 L515.0,102.3 L516.1,101.0 L517.7,100.6 L519.1,99.8 L520.6,99.3 L522.2,98.9 L523.8,98.8 L525.4,98.5 L526.9,97.8 L528.5,97.7 L530.0,97.1 L531.6,96.7 L533.1,96.3 L534.7,95.8 L536.3,95.7 L537.8,94.9 L539.4,94.8 L540.9,94.3 L542.4,93.6 L544.0,93.2 L545.4,92.3 L547.0,92.1 L548.6,91.8 L550.1,91.2 L551.5,90.2 L553.0,89.6 L554.7,89.8 L556.2,89.1 L557.7,88.5 L559.3,88.4 L560.9,88.3 L562.5,88.2 L564.1,88.0 L565.7,87.7 L567.3,87.6 L568.9,87.5 L570.5,87.5 L572.1,87.2 L573.6,87.0 L575.2,87.0 L576.8,86.9 L578.4,86.5 L580.0,86.4 L581.6,86.3 L583.2,86.2 L584.8,85.9 L586.4,85.8 L588.0,85.6 L589.6,85.5 L591.2,85.1 L592.8,85.0 L594.4,85.0 L596.0,84.7 L597.6,84.7 L599.1,84.3 L600.7,84.2 L602.3,84.1 L603.9,83.9 L605.5,83.9 L607.1,83.7 L608.7,83.4 L610.0,82.7 L611.8,82.6 L613.3,82.1 L614.8,81.4 L616.0,80.3 L617.7,80.2 L619.2,79.8 L620.8,79.5 L622.4,79.3 L623.9,78.8 L625.5,78.5 L627.1,78.3 L628.7,78.0 L630.3,77.9 L631.9,77.7 L633.4,77.4 L635.1,77.4 L636.6,77.2 L638.2,76.9 L639.8,76.8 L641.4,76.5 L643.0,76.4 L644.6,76.3 L646.1,75.8 L647.7,75.3 L649.3,75.3 L650.7,74.4 L652.2,73.8 L653.8,73.4 L655.4,73.3 L657.0,72.9 L658.6,72.6 L660.0,71.8 L661.5,71.1 L663.2,71.1 L664.8,71.1 L666.4,70.9 L668.0,70.6 L669.5,70.3 L671.1,70.0 L672.7,69.8 L674.3,69.6 L675.9,69.6 L677.5,69.3 L679.1,68.9 L680.7,68.8 L682.3,68.9 L683.9,68.6 L685.4,68.4 L687.0,68.2 L688.6,68.0 L690.2,67.7 L691.8,67.6 L693.4,67.2 L694.9,66.8 L696.6,66.9 L698.1,66.6 L699.7,66.1 L701.3,65.8 L702.9,65.7 L704.5,65.6 L706.1,65.3 L707.7,65.2 L709.3,65.1 L710.8,64.9 L712.4,64.6 L714.0,64.4 L715.6,64.3 L717.2,64.2 L718.8,64.2 L720.4,63.9 L722.0,63.7 L723.5,63.0 L725.1,62.9 L726.7,62.3 L728.2,62.2 L729.8,61.9 L731.4,61.6 L733.0,61.5 L734.6,61.5 L736.2,61.4 L737.8,61.3 L739.4,61.3 L741.0,61.2 L742.6,61.1 L744.2,61.2 L745.8,61.1 L747.4,60.9 L749.0,60.9 L750.6,60.8 L752.2,60.8 L753.8,60.8 L755.4,60.8 L757.0,60.8 L758.6,60.6 L760.2,60.6 L761.8,60.6 L763.4,60.5 L764.9,59.9 L766.5,59.5 L768.0,58.9 L769.5,58.3 L771.1,58.0 L772.6,57.4 L774.2,57.2 L775.8,57.0 L777.3,56.4 L778.9,56.3 L780.5,56.3 L782.1,56.2 L783.7,56.1 L785.3,56.1 L786.9,56.0 L788.5,56.1 L790.1,56.0 L791.7,56.0 L793.3,56.0 L794.9,55.9 L796.5,55.9 L798.1,55.8 L799.7,55.8 L801.3,55.8 L802.9,55.7 L804.5,55.7 L806.1,55.6 L807.7,55.5 L809.3,55.6 L810.9,55.5 L812.5,55.3 L814.1,55.2 L815.7,55.0 L817.3,55.0 L818.9,54.9 L820.5,54.9 L822.1,54.8 L823.7,54.8 L825.3,54.5 L826.9,54.5 L828.5,54.3 L830.1,54.2 L831.7,54.1 L833.3,53.7 L834.9,53.6 L836.5,53.3 L838.1,53.3 L839.6,53.1 L841.2,52.8 L842.8,52.8 L844.4,52.8 L846.0,52.7 L847.6,52.7 L849.2,52.7 L850.8,52.7 L852.4,52.6 L854.0,52.6 L855.6,52.5 L857.2,52.5 L858.8,52.1 L860.4,51.9 L862.0,52.0 L863.6,51.5 L865.2,51.4 L866.7,51.0 L868.3,50.8 L869.9,50.5 L871.5,50.3 L873.1,50.0 L874.7,50.0 L876.3,50.0 L877.9,49.9 L879.5,49.9 L881.1,49.9 L882.7,49.8 L884.3,49.7 L885.9,49.7 L887.5,49.6 L889.1,49.4 L890.7,49.4 L892.3,49.3 L893.9,49.2 L895.5,49.2 L897.1,49.1 L898.7,48.9 L900.2,48.7 L901.9,48.7 L903.4,48.5 L905.0,48.5 L906.6,48.3 L908.2,48.0 L909.8,48.0 L911.4,47.9 L913.0,47.9 L914.6,47.9 L916.2,47.8 L917.8,47.6 L919.4,47.6 L921.0,47.6 L922.6,47.6 L924.2,47.6 L925.8,47.6 L927.4,47.5 L929.0,47.5 L930.6,47.4 L932.2,47.3 L933.8,47.3 L935.4,47.3 L937.0,47.2 L938.6,47.1 L940.2,47.1 L941.8,47.0 L943.4,47.0 L945.0,47.0 L946.6,46.9 L948.2,46.9 L949.8,46.8 L951.4,46.8 L953.0,46.8 L954.6,46.7 L956.2,46.7 L957.8,46.6 L959.4,46.6 L961.0,46.4 L962.6,46.4 L964.2,46.4 L965.8,46.4 L967.4,46.3 L969.0,46.1 L970.6,46.1 L972.3,46.1 L973.9,46.1 L975.4,45.9 L977.0,45.9 L978.7,45.9 L980.3,45.9 L981.9,45.8 L983.5,45.8 L985.1,45.7 L986.7,45.7 L988.3,45.6 L989.9,45.7 L991.5,45.4 L993.0,45.2 L994.6,45.0 L996.2,44.9 L997.8,44.7 L999.4,44.5 L1001.0,44.5 L1002.6,44.4 L1004.2,44.4 L1005.8,44.4 L1007.4,44.3 L1009.0,44.3 L1010.6,44.2 L1012.2,44.2 L1013.8,44.2 L1015.4,44.0 L1017.0,44.0 L1018.6,44.1 L1020.2,44.0 L1021.8,44.0 L1023.4,43.9 L1025.0,43.8 L1026.6,43.8 L1028.2,43.8 L1029.8,43.8 L1031.4,43.8 L1033.0,43.8 L1034.6,43.7 L1036.2,43.6 L1037.8,43.5 L1039.4,43.5 L1041.0,43.5 L1042.6,43.4 L1044.2,43.4 L1045.8,43.4 L1047.4,43.3 L1049.0,43.3 L1050.6,43.1 L1052.2,43.0 L1053.8,43.1 L1055.4,42.9 L1057.0,43.0 L1058.6,42.9 L1060.2,42.7 L1061.8,42.7 L1063.4,42.8 L1065.0,42.8 L1066.6,42.7 L1068.2,42.6 L1069.8,42.5 L1071.4,42.4 L1073.0,42.5 L1074.6,42.5 L1076.2,42.4 L1077.8,42.4 L1079.4,42.3 L1081.0,42.3 L1082.6,42.4 L1084.2,42.3 L1085.9,42.4 L1087.5,42.4 L1089.1,42.4 L1090.7,42.4 L1092.3,42.3 L1093.9,42.3 L1095.5,42.3 L1097.1,42.3 L1098.7,42.4 L1100.3,42.4 L1101.9,42.4 L1103.5,42.4 L1105.1,42.3 L1106.7,42.3 L1108.3,42.3 L1109.9,42.3 L1111.5,42.3 L1113.1,42.3 L1114.7,42.3 L1116.3,42.3 L1117.9,42.3 L1119.5,42.3 L1121.1,42.3 L1122.7,42.4 L1124.3,42.3 L1125.9,42.3 L1127.5,42.3 L1129.1,42.4 L1130.7,42.3 L1132.3,42.3 L1133.9,42.3 L1135.5,42.3 L1137.1,42.3 L1138.7,42.4 L1140.3,42.4 L1141.9,42.3 L1143.5,42.3 L1145.1,42.2 L1146.7,42.2 L1148.3,42.3 L1149.9,42.3 L1151.5,42.3 L1153.1,42.3 L1154.7,42.3 L1156.3,42.3 L1157.9,42.3 L1159.5,42.3 L1161.1,42.3 L1162.7,42.2 L1164.3,42.2 L1165.9,42.3 L1167.5,42.3 L1169.1,42.3 L1170.7,42.3 L1172.3,42.3 L1173.9,42.4 L1175.5,42.4 L1177.1,42.3 L1178.7,42.3 L1180.3,42.3 L1181.9,42.2 L1183.5,42.3 L1185.1,42.2 L1186.7,42.3 L1188.3,42.2 L1189.9,42.2 L1191.5,42.3 L1193.1,42.3 L1194.7,42.3 L1196.3,42.3 L1197.9,42.3 L1199.5,42.3 L1201.1,42.3 L1202.7,42.2 L1204.3,42.2 L1205.9,42.3 L1207.5,42.2 L1209.1,42.2 L1210.7,42.3 L1212.3,42.3 L1213.9,42.2 L1215.5,42.3 L1217.1,42.2 L1218.7,42.2 L1220.3,42.3 L1221.9,42.3 L1223.6,42.3 L1225.2,42.2 L1226.8,42.3 L1228.4,42.3 L1230.0,42.3 L1231.6,42.2 L1233.2,42.2 L1234.8,42.2 L1236.4,42.3 L1238.0,42.3 L1239.6,42.3 L1241.2,42.3 L1242.8,42.2 L1244.4,42.3 L1246.0,42.3 L1247.6,42.2 L1249.2,42.2 L1250.8,42.3 L1252.4,42.3 L1254.0,42.2 L1255.6,42.3 L1257.2,42.2 L1258.8,42.3 L1260.4,42.3 L1262.0,42.3 L1263.6,42.3 L1265.2,42.2 L1266.8,42.2 L1268.4,42.2 L1270.0,42.2 L1271.6,42.3 L1273.2,42.2 L1274.8,42.2 L1276.4,42.2 L1278.0,42.3 L1279.6,42.3 L1281.2,42.3 L1282.8,42.2 L1284.4,42.3 L1286.0,42.3 L1287.6,42.3 L1289.2,42.2 L1290.8,42.2" stroke="#9467bd" stroke-width="4.6" stroke-linecap="square"/>
<path d="M169.4,858.7 L169.4,857.0 L169.9,855.4 L170.4,853.7 L170.6,852.0 L170.8,850.3 L170.9,848.6 L171.2,847.0 L171.6,845.3 L171.9,843.6 L172.3,842.0 L172.2,840.2 L172.6,838.6 L173.0,836.9 L173.4,835.3 L173.5,833.5 L174.0,831.9 L174.4,830.3 L174.3,828.5 L174.7,826.9 L175.2,825.2 L175.2,823.5 L175.9,821.9 L176.1,820.2 L176.3,818.5 L176.9,816.9 L177.2,815.2 L177.2,813.5 L177.3,811.8 L177.8,810.1 L177.7,808.4 L178.2,806.8 L178.5,805.1 L178.6,803.4 L178.8,801.7 L179.2,800.0 L179.5,798.4 L179.5,796.6 L179.8,795.0 L179.9,793.3 L180.2,791.6 L180.3,789.9 L180.6,788.2 L180.8,786.5 L180.9,784.8 L181.1,783.1 L181.3,781.4 L181.6,779.7 L181.8,778.1 L182.0,776.4 L182.3,774.7 L182.2,773.0 L182.4,771.3 L182.7,769.6 L182.8,767.9 L182.9,766.2 L183.1,764.5 L183.4,762.8 L183.9,761.2 L184.2,759.5 L184.5,757.8 L184.9,756.2 L185.1,754.5 L185.3,752.8 L185.7,751.1 L186.1,749.5 L186.1,747.8 L186.3,746.1 L186.5,744.4 L186.8,742.7 L187.1,741.0 L187.5,739.4 L187.7,737.7 L187.8,736.0 L187.9,734.3 L188.0,732.6 L188.4,730.9 L188.8,729.2 L188.9,727.5 L188.9,725.8 L189.3,724.1 L189.4,722.4 L189.6,720.8 L189.8,719.1 L190.0,717.4 L190.2,715.7 L190.8,714.1 L191.1,712.4 L191.4,710.7 L191.3,709.0 L191.5,707.3 L191.7,705.6 L192.0,703.9 L192.4,702.3 L192.8,700.6 L193.2,699.0 L193.6,697.3 L193.6,695.6 L193.7,693.8 L194.0,692.2 L194.5,690.6 L195.0,688.9 L195.6,687.3 L195.8,685.6 L196.1,683.9 L196.6,682.3 L196.9,680.6 L197.1,678.9 L197.3,677.2 L197.5,675.6 L197.6,673.8 L197.7,672.1 L198.1,670.5 L198.4,668.8 L198.4,667.1 L198.6,665.4 L198.9,663.7 L199.3,662.1 L199.3,660.3 L199.4,658.6 L199.7,657.0 L199.9,655.3 L200.1,653.6 L200.3,651.9 L200.6,650.2 L200.7,648.5 L200.8,646.8 L201.0,645.1 L201.5,643.5 L201.7,641.8 L201.6,640.0 L201.8,638.4 L202.0,636.7 L202.2,635.0 L202.5,633.3 L203.0,631.7 L203.1,630.0 L203.5,628.3 L203.7,626.6 L204.2,625.0 L204.2,623.2 L204.6,621.6 L205.0,619.9 L205.3,618.2 L205.8,616.6 L205.9,614.9 L206.0,613.2 L206.7,611.6 L207.1,610.0 L207.5,608.3 L207.8,606.6 L208.2,605.0 L208.5,603.3 L208.4,601.6 L209.1,599.9 L209.4,598.3 L209.3,596.5 L209.6,594.9 L209.9,593.2 L210.3,591.5 L210.3,589.8 L210.6,588.1 L210.9,586.5 L211.3,584.8 L211.7,583.1 L211.7,581.4 L211.8,579.7 L212.1,578.0 L212.4,576.4 L212.8,574.7 L213.0,573.0 L213.2,571.3 L213.4,569.6 L213.8,568.0 L213.9,566.3 L213.9,564.5 L214.2,562.9 L214.5,561.2 L215.1,559.6 L215.4,557.9 L215.6,556.2 L215.9,554.5 L216.6,552.9 L216.9,551.3 L216.9,549.5 L217.1,547.9 L217.2,546.1 L217.5,544.5 L218.2,542.9 L218.4,541.2 L218.7,539.5 L219.1,537.8 L219.0,536.1 L219.4,534.4 L219.7,532.8 L219.8,531.1 L220.0,529.4 L220.2,527.7 L220.2,526.0 L220.4,524.3 L220.5,522.6 L220.8,520.9 L220.8,519.2 L221.1,517.5 L221.1,515.8 L221.4,514.1 L221.6,512.4 L221.6,510.7 L221.8,509.0 L222.2,507.4 L222.5,505.7 L222.6,504.0 L223.0,502.3 L223.1,500.6 L223.3,498.9 L223.7,497.3 L223.9,495.6 L223.9,493.9 L224.2,492.2 L224.5,490.5 L224.7,488.8 L224.6,487.1 L224.7,485.4 L225.0,483.7 L225.1,482.0 L225.3,480.3 L225.7,478.6 L225.9,476.9 L225.9,475.2 L226.2,473.6 L226.6,471.9 L226.9,470.2 L227.1,468.5 L227.4,466.8 L227.6,465.2 L227.8,463.5 L227.8,461.8 L228.0,460.1 L228.3,458.4 L228.8,456.8 L228.8,455.0 L229.2,453.4 L229.2,451.6 L229.7,450.0 L230.2,448.4 L230.6,446.7 L230.9,445.0 L230.8,443.3 L231.2,441.6 L231.7,440.0 L231.7,438.3 L232.0,436.6 L232.5,435.0 L232.6,433.3 L232.6,431.5 L232.9,429.9 L233.4,428.2 L233.6,426.5 L233.7,424.8 L234.2,423.2 L234.2,421.4 L234.5,419.8 L234.8,418.1 L235.1,416.4 L235.6,414.8 L235.9,413.1 L236.2,411.4 L236.4,409.7 L237.1,408.1 L237.3,406.5 L237.5,404.8 L237.6,403.1 L237.6,401.3 L237.9,399.7 L238.3,398.0 L238.6,396.3 L238.7,394.6 L238.9,392.9 L239.2,391.3 L239.6,389.6 L239.5,387.8 L239.9,386.2 L240.5,384.6 L240.8,382.9 L241.2,381.3 L241.7,379.6 L241.9,378.0 L242.0,376.2 L242.5,374.6 L242.9,372.9 L242.9,371.2 L243.0,369.5 L243.3,367.8 L243.7,366.2 L244.3,364.6 L244.7,362.9 L245.0,361.3 L245.2,359.5 L245.4,357.8 L246.6,356.5 L247.4,354.9 L247.8,353.3 L248.0,351.5 L248.2,349.8 L248.6,348.2 L248.8,346.5 L249.3,344.9 L249.5,343.2 L249.5,341.4 L249.9,339.8 L250.6,338.2 L250.7,336.5 L251.0,334.8 L251.7,333.2 L252.1,331.6 L252.1,329.8 L252.3,328.1 L252.6,326.4 L253.3,324.9 L253.5,323.2 L253.6,321.5 L253.9,319.8 L254.6,318.2 L255.1,316.6 L255.5,314.9 L255.5,313.2 L255.9,311.5 L256.6,309.9 L256.7,308.2 L256.8,306.5 L257.4,304.9 L258.5,303.4 L259.1,301.9 L259.2,300.1 L259.5,298.4 L260.3,296.9 L260.6,295.2 L261.2,293.6 L261.4,291.9 L262.4,290.5 L262.7,288.8 L262.6,287.0 L263.4,285.5 L263.6,283.7 L263.8,282.0 L264.4,280.4 L264.7,278.8 L264.9,277.1 L265.4,275.5 L266.0,273.8 L266.2,272.2 L266.6,270.5 L267.4,269.0 L267.8,267.3 L267.7,265.5 L268.0,263.8 L268.4,262.2 L269.1,260.6 L269.8,259.0 L270.2,257.4 L270.2,255.6 L270.2,253.9 L270.6,252.2 L271.4,250.7 L271.5,249.0 L272.2,247.4 L272.4,245.7 L272.8,244.1 L273.3,242.4 L273.9,240.8 L274.6,239.3 L275.5,237.9 L276.0,236.2 L276.7,234.7 L278.0,233.5 L278.7,232.0 L279.7,230.6 L279.7,228.7 L281.0,227.5 L281.0,225.6 L281.4,223.9 L283.0,222.8 L283.3,221.1 L283.5,219.3 L284.8,218.1 L285.9,216.7 L286.8,215.3 L286.9,213.5 L287.0,211.6 L287.5,210.0 L288.9,208.8 L289.6,207.3 L289.8,205.5 L290.0,203.7 L290.7,202.1 L292.2,201.1 L292.9,199.5 L293.5,197.9 L294.1,196.4 L295.1,195.0 L296.0,193.6 L297.2,192.3 L297.4,190.6 L297.6,188.9 L297.9,187.2 L298.1,185.5 L298.6,184.0 L299.0,182.2 L300.0,180.9 L300.6,179.3 L301.7,178.0 L302.5,176.5 L303.5,175.1 L304.5,173.8 L305.2,172.3 L305.9,170.7 L306.5,169.1 L306.4,167.3 L307.4,165.8 L308.2,164.3 L308.9,162.8 L308.9,161.0 L309.8,159.5 L310.0,157.8 L310.9,156.3 L311.8,155.0 L313.3,154.3 L314.4,153.1 L315.7,152.1 L317.1,151.2 L318.1,149.8 L319.0,148.3 L319.9,147.1 L321.4,146.1 L322.2,144.6 L323.6,143.6 L323.9,141.7 L325.0,140.3 L326.2,139.1 L327.4,138.0 L328.8,137.2 L330.0,136.1 L331.1,134.8 L332.4,133.9 L333.4,132.5 L334.6,131.4 L336.2,130.6 L337.0,129.0 L338.2,128.1 L340.0,127.4 L340.9,126.0 L341.6,124.4 L342.0,122.6 L343.2,121.4 L344.0,119.9 L344.8,118.6 L345.6,117.1 L346.7,115.8 L347.0,114.1 L347.5,112.4 L349.3,111.5 L350.0,109.9 L350.2,108.1 L351.7,107.3 L352.8,106.0 L353.5,104.4 L355.0,103.6 L356.3,102.6 L357.2,101.1 L358.6,100.2 L359.7,98.9 L360.7,97.4 L362.1,96.5 L363.3,95.4 L364.9,95.0 L366.3,94.1 L367.4,92.7 L368.7,91.8 L370.4,91.4 L371.8,90.6 L372.9,89.3 L373.6,88.0 L374.4,86.5 L375.7,85.4 L376.8,84.1 L377.0,82.2 L378.4,81.1 L379.1,79.5 L380.1,78.7 L381.2,77.2 L383.0,77.1 L384.4,76.3 L385.6,75.1 L386.9,74.0 L388.4,73.6 L390.0,72.8 L391.1,71.6 L391.6,69.8 L391.9,68.0 L393.4,67.0 L394.4,65.7 L395.2,64.2 L396.7,63.5 L397.6,62.0 L398.5,60.5 L399.8,59.5 L401.6,59.1 L402.9,58.0 L404.2,57.0 L405.7,56.3 L407.2,55.8 L408.9,55.7 L410.4,55.0 L412.0,54.6 L413.4,54.0 L415.0,53.4 L416.4,52.8 L417.9,52.4 L419.4,51.7 L421.0,51.3 L422.6,51.1 L424.2,51.0 L425.7,50.4 L427.3,50.1 L428.9,49.7 L430.4,49.3 L432.0,49.4 L433.6,49.3 L435.2,49.3 L436.8,49.2 L438.4,49.1 L440.0,49.1 L441.6,49.0 L443.2,49.0 L444.8,48.9 L446.4,48.9 L448.0,48.9 L449.6,48.8 L451.2,48.6 L452.8,48.4 L454.4,48.3 L456.0,48.3 L457.6,48.2 L459.2,48.1 L460.8,47.9 L462.4,47.7 L464.0,47.6 L465.5,47.1 L467.1,46.9 L468.7,46.5 L470.2,46.1 L471.9,46.1 L473.4,45.7 L475.0,45.5 L476.6,45.2 L478.2,45.0 L479.8,44.6 L481.3,44.3 L482.9,44.0 L484.5,43.5 L486.0,43.2 L487.6,42.8 L489.2,42.6 L490.8,42.5 L492.4,42.5 L494.0,42.5 L495.6,42.5 L497.2,42.3 L498.8,42.3 L500.4,42.3 L502.0,42.3 L503.6,42.2 L505.2,42.2 L506.8,42.1" stroke="#8c564b" stroke-width="4.6" stroke-linecap="square"/>
</g></g>
<rect x="112.3" y="0" width="1233.7" height="1.1" fill="#d3d3d3"/>
<rect x="1344.9" y="0" width="1.1" height="846.6" fill="#a4a4a4"/>
<path d="M113.4,1.1 V846.6" fill="none" stroke="#000" stroke-width="2.3"/>
<path d="M1343.85,1.1 V846.6" fill="none" stroke="#000" stroke-width="2.1"/>
<path d="M112.30000000000001,845.5 H1344.85" fill="none" stroke="#000" stroke-width="2.1"/>
<path d="M112.30000000000001,1.9 H1344.85" fill="none" stroke="#1c1c1c" stroke-width="1.6"/>
<g stroke="#000">
<line x1="169.35" y1="845.5" x2="169.35" y2="853.7" stroke-width="2.1"/>
<line x1="326.24" y1="845.5" x2="326.24" y2="853.7" stroke-width="2.1"/>
<line x1="483.13" y1="845.5" x2="483.13" y2="853.7" stroke-width="2.1"/>
<line x1="640.02" y1="845.5" x2="640.02" y2="853.7" stroke-width="2.1"/>
<line x1="796.91" y1="845.5" x2="796.91" y2="853.7" stroke-width="2.1"/>
<line x1="953.80" y1="845.5" x2="953.80" y2="853.7" stroke-width="2.1"/>
<line x1="1110.69" y1="845.5" x2="1110.69" y2="853.7" stroke-width="2.1"/>
<line x1="1267.58" y1="845.5" x2="1267.58" y2="853.7" stroke-width="2.1"/>
<line x1="104.60000000000001" y1="807.60" x2="113.4" y2="807.60" stroke-width="1.8"/>
<line x1="104.60000000000001" y1="654.05" x2="113.4" y2="654.05" stroke-width="1.8"/>
<line x1="104.60000000000001" y1="500.50" x2="113.4" y2="500.50" stroke-width="1.8"/>
<line x1="104.60000000000001" y1="346.95" x2="113.4" y2="346.95" stroke-width="1.8"/>
<line x1="104.60000000000001" y1="193.40" x2="113.4" y2="193.40" stroke-width="1.8"/>
<line x1="104.60000000000001" y1="39.85" x2="113.4" y2="39.85" stroke-width="1.8"/>
</g>
<g class="tick">
<text x="169.3" y="885.6" text-anchor="middle">0.0</text>
<text x="326.2" y="885.6" text-anchor="middle">0.2</text>
<text x="483.1" y="885.6" text-anchor="middle">0.4</text>
<text x="640.0" y="885.6" text-anchor="middle">0.6</text>
<text x="796.9" y="885.6" text-anchor="middle">0.8</text>
<text x="953.8" y="885.6" text-anchor="middle">1.0</text>
<text x="1110.7" y="885.6" text-anchor="middle">1.2</text>
<text x="1267.6" y="885.6" text-anchor="middle">1.4</text>
<text x="96.0" y="819.6" text-anchor="end">0.0</text>
<text x="96.0" y="666.0" text-anchor="end">0.2</text>
<text x="96.0" y="512.5" text-anchor="end">0.4</text>
<text x="96.0" y="358.9" text-anchor="end">0.6</text>
<text x="96.0" y="205.4" text-anchor="end">0.8</text>
<text x="96.0" y="51.9" text-anchor="end">1.0</text>
</g>
<text class="lab" transform="translate(728.9,931.9) scale(0.992,0.96)" text-anchor="middle">Absolute Relative Error(%)</text>
<text class="lab" style="font-size:45.6px" transform="translate(32.6,423.3) rotate(-90) scale(0.907,1)" text-anchor="middle">Cumulative Frequency</text>
<rect x="1036.2" y="568.4" width="292.39999999999986" height="261.70000000000005" rx="4.8" ry="4.8" fill="#fff" fill-opacity="0.8" stroke="#cccccc" stroke-opacity="0.8" stroke-width="2.6"/>
<line transform="scale(1,0.94)" x1="1048.3" y1="628.40" x2="1111.9" y2="628.40" stroke="#1f77b4" stroke-width="4.6" stroke-dasharray="31.4 7.84 4.9 7.84" stroke-linecap="butt"/>
<text class="leg" transform="translate(1137.6,601.3) scale(1,0.965)">GBoost</text>
<line transform="scale(1,0.94)" x1="1048.3" y1="673.35" x2="1111.9" y2="673.35" stroke="#ff7f0e" stroke-width="4.6" stroke-dasharray="18.1 7.84" stroke-linecap="butt"/>
<text class="leg" transform="translate(1137.6,643.6) scale(1,0.965)">LightGBM</text>
<line transform="scale(1,0.94)" x1="1048.3" y1="718.30" x2="1111.9" y2="718.30" stroke="#2ca02c" stroke-width="4.6" stroke-dasharray="4.9 8.1" stroke-linecap="butt"/>
<text class="leg" transform="translate(1137.6,685.8) scale(1,0.965)">AdaBoost-DT</text>
<line transform="scale(1,0.94)" x1="1048.3" y1="763.24" x2="1111.9" y2="763.24" stroke="#d62728" stroke-width="4.6" stroke-dasharray="31.4 7.84 4.9 7.84" stroke-linecap="butt"/>
<text class="leg" transform="translate(1137.6,728.1) scale(1,0.965)">DT</text>
<line transform="scale(1,0.94)" x1="1048.3" y1="808.19" x2="1111.9" y2="808.19" stroke="#9467bd" stroke-width="4.6" stroke-linecap="square"/>
<text class="leg" transform="translate(1137.6,770.3) scale(1,0.965)">TabNet</text>
<line transform="scale(1,0.94)" x1="1048.3" y1="853.14" x2="1111.9" y2="853.14" stroke="#8c564b" stroke-width="4.6" stroke-linecap="square"/>
<text class="leg" transform="translate(1137.6,812.6) scale(1,0.965)">DNN</text>
</svg></body></html>
